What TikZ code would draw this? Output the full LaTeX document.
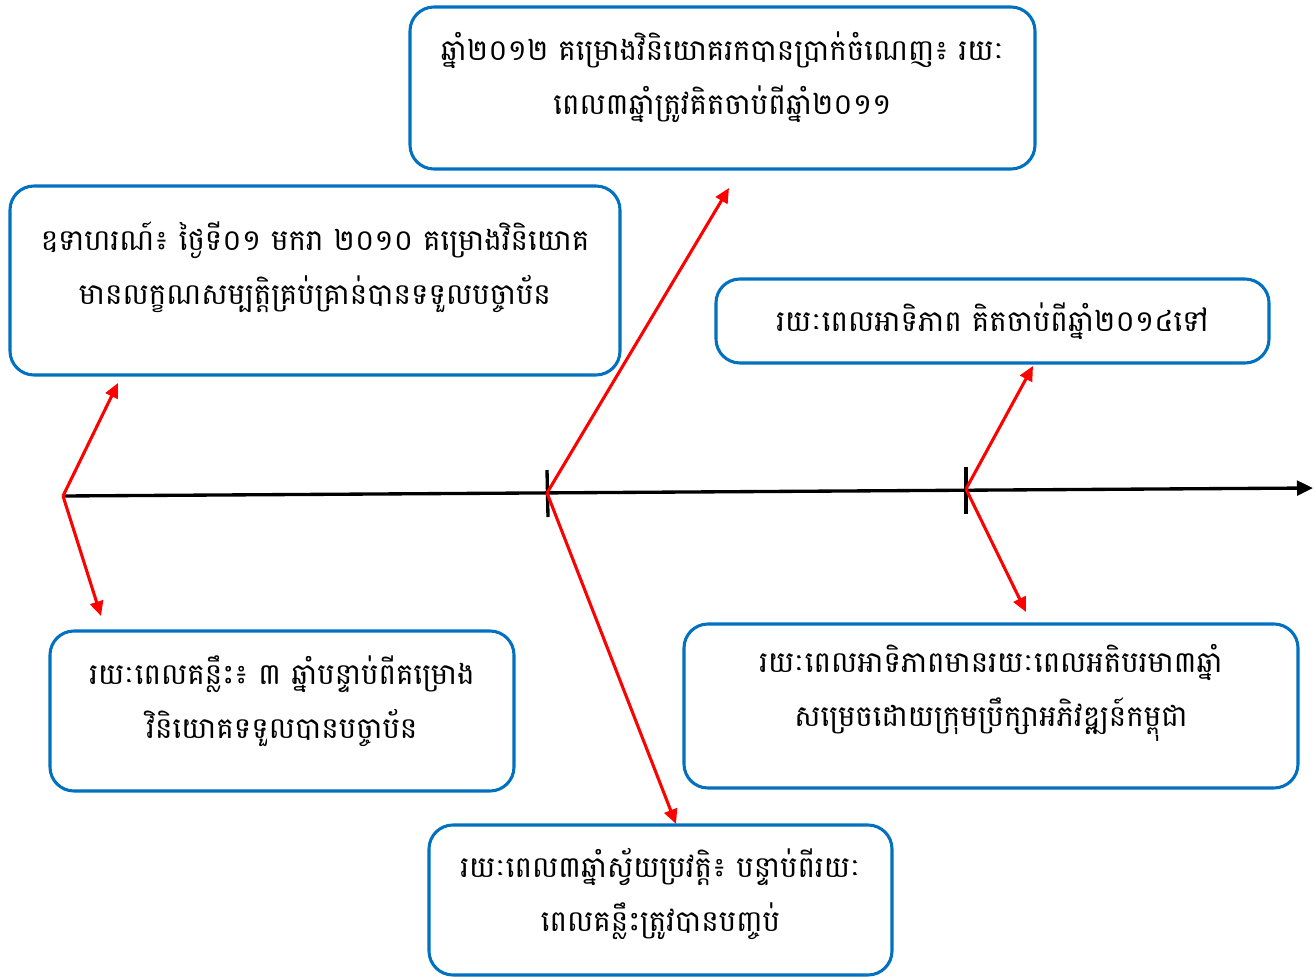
\documentclass[tikz,border=0pt]{standalone}
\usepackage{fontspec}
\newfontfamily\khmer[Script=Khmer]{Battambang}
\usetikzlibrary{arrows.meta}
\definecolor{boxblue}{RGB}{0,112,192}
\tikzset{
  kbox/.style={draw=boxblue, line width=2.3pt, rounded corners=18pt, fill=white, inner sep=0pt},
  ktext/.style={align=center, inner sep=0pt, font=\khmer\fontsize{22}{40.5}\selectfont},
  redarrow/.style={draw=red, line width=2.3pt, -{Triangle[length=11pt,width=10pt]}},
  axis/.style={draw=black, line width=2.5pt, -{Triangle[length=12pt,width=11pt]}},
  tick/.style={draw=black, line width=2.5pt}
}
\begin{document}
\begin{tikzpicture}[x=0.75pt,y=-0.75pt]
\useasboundingbox (0,0) rectangle (1315,977);
% boxes
\node[kbox, minimum width=625*0.75pt, minimum height=162*0.75pt] (top) at (722.5,88) {};
\node[ktext] (toptext) at (722.5,77)
  {ឆ្នាំ២០១២ គម្រោងវិនិយោគរកបានប្រាក់ចំណេញ៖ រយៈ\\ពេល៣ឆ្នាំត្រូវគិតចាប់ពីឆ្នាំ២០១១};
\node[kbox, minimum width=610*0.75pt, minimum height=189*0.75pt] (left) at (315,280.5) {};
\node[ktext] (lefttext) at (315,267)
  {ឧទាហរណ៍៖ ថ្ងៃទី០១ មករា ២០១០ គម្រោងវិនិយោគ\\មានលក្ខណសម្បត្តិគ្រប់គ្រាន់បានទទួលបច្ចាប័ន};
\node[kbox, minimum width=553*0.75pt, minimum height=84*0.75pt] (right) at (992.5,321) {};
\node[ktext] (righttext) at (992.5,321)
  {រយៈពេលអាទិភាព គិតចាប់ពីឆ្នាំ២០១៤ទៅ};
\node[kbox, minimum width=464*0.75pt, minimum height=160*0.75pt] (bl) at (282,711) {};
\node[ktext] (bltext) at (282,701)
  {រយៈពេលគន្លឹះ៖ ៣ ឆ្នាំបន្ទាប់ពីគម្រោង\\វិនិយោគទទួលបានបច្ចាប័ន};
\node[kbox, minimum width=614*0.75pt, minimum height=164*0.75pt] (br) at (991,706) {};
\node[ktext] (brtext) at (991,693)
  {រយៈពេលអាទិភាពមានរយៈពេលអតិបរមា៣ឆ្នាំ\\សម្រេចដោយក្រុមប្រឹក្សាអភិវឌ្ឍន៍កម្ពុជា};
\node[kbox, minimum width=463*0.75pt, minimum height=150*0.75pt] (bc) at (660.5,900) {};
\node[ktext] (bctext) at (660.5,894)
  {រយៈពេល៣ឆ្នាំស្វ័យប្រវត្តិ៖ បន្ទាប់ពីរយៈ\\ពេលគន្លឹះត្រូវបានបញ្ចប់};
% timeline
\coordinate (o1) at (63,496);
\coordinate (o2) at (547,493);
\coordinate (o3) at (966,489);
\coordinate (tend) at (1313,488);
\draw[axis] (o1) -- (tend);
\coordinate (t2a) at (547,470); \coordinate (t2b) at (548,517);
\coordinate (t3a) at (966,467); \coordinate (t3b) at (966,514);
\draw[tick] (t2a) -- (t2b);
\draw[tick] (t3a) -- (t3b);
% arrow tips
\coordinate (a1) at (118,383);
\coordinate (b1) at (101,616);
\coordinate (a2) at (729,188);
\coordinate (b2) at (676,824);
\coordinate (a3) at (1033,366);
\coordinate (b3) at (1026,612);
\draw[redarrow] (o1) -- (a1);
\draw[redarrow] (o1) -- (b1);
\draw[redarrow] (o2) -- (a2);
\draw[redarrow] (o2) -- (b2);
\draw[redarrow] (o3) -- (a3);
\draw[redarrow] (o3) -- (b3);
\end{tikzpicture}
\end{document}
